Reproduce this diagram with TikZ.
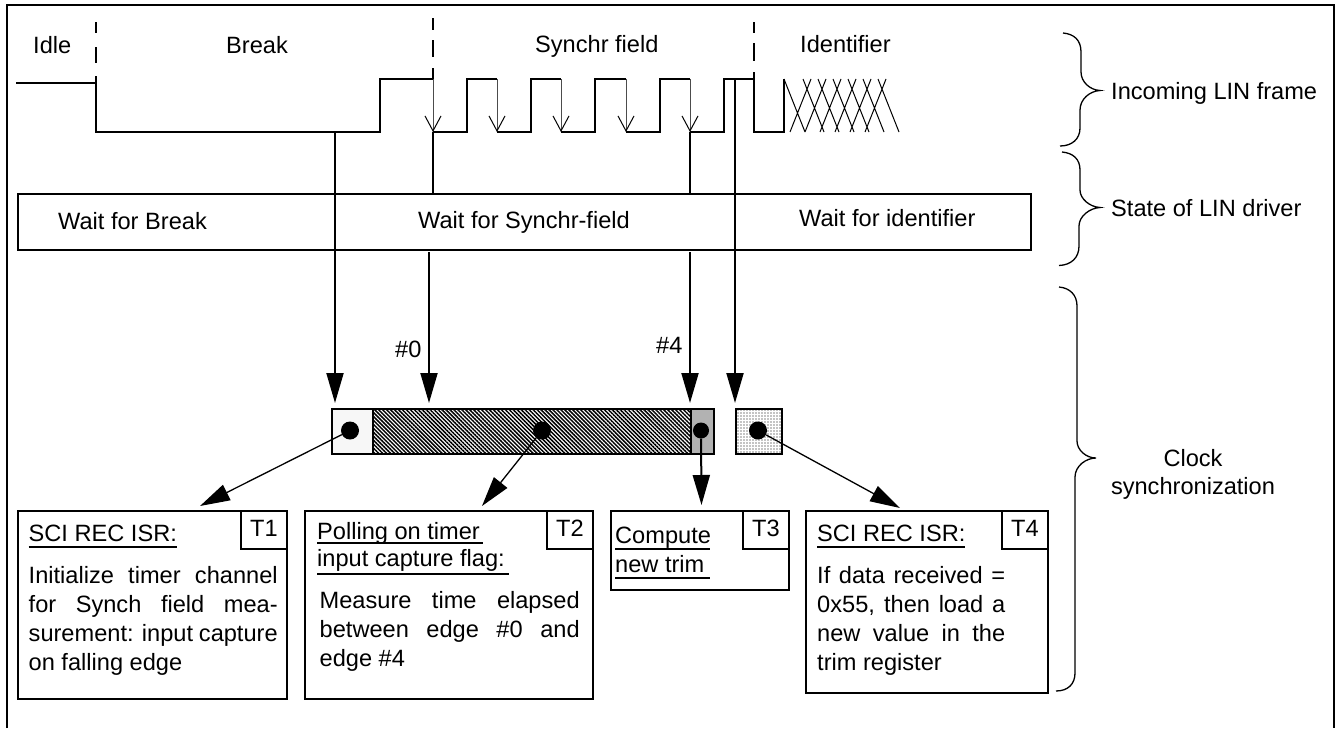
\documentclass[tikz,border=0pt]{standalone}
\usepackage{fontspec}
\setmainfont{Liberation Sans}
\usetikzlibrary{arrows.meta, patterns.meta}

\newcommand{\fillline}[2]{\makebox[#1][s]{#2}}
\newcommand{\ultext}[3]{\rlap{\rule[-#1]{#2}{2pt}}#3}

\tikzset{
	label/.style={inner sep=0pt, anchor=base west, align=left, font=\fontsize{23.6}{29}\selectfont},
	taskbox/.style={draw, line width=2pt, anchor=north west, inner sep=0pt},
	tabbox/.style={draw, line width=2pt, anchor=north east, inner sep=0pt, minimum width=46pt, minimum height=38pt, text depth=4pt, font=\fontsize{23.6}{29}\selectfont},
	block/.style={draw, line width=2pt, anchor=north west, inner sep=0pt, minimum height=45pt},
	spot/.style={circle, fill=black, inner sep=0pt, minimum size=18pt},
	signal/.style={line width=2pt},
	brace/.style={line width=1.3pt},
	fallarrow/.style={line width=1pt, draw=black!70, -{Straight Barb[length=15pt,width=16pt,line width=1pt,black]}},
	bigarrow/.style={line width=2pt, -{Triangle[length=30pt,width=17pt]}},
	slimarrow/.style={line width=1.3pt, -{Triangle[length=30pt,width=17pt]}}
}

\begin{document}
\begin{tikzpicture}[x=1pt, y=-1pt]
	\useasboundingbox (0,0) rectangle (1340,728);

	% outer frame, no bottom edge
	\draw[signal] (7,728) -- (7,5) -- (1334,5) -- (1334,728);

	% field titles
	\node[label] (idle) at (33,53) {Idle};
	\node[label] (break) at (226,53) {Break};
	\node[label] (synchr) at (535,52) {Synchr field};
	\node[label] (ident) at (800,52) {Identifier};

	% field separators
	\draw[signal] (96,22) -- (96,33) (96,47) -- (96,63) (96,76) -- (96,83);
	\draw[signal] (433,18) -- (433,30) (433,40) -- (433,57) (433,68) -- (433,79);
	\draw[signal] (754,22) -- (754,33) (754,43) -- (754,61) (754,72) -- (754,79);

	% incoming frame
	\draw[signal] (16,83) -- (96,83) -- (96,132) -- (380,132) -- (380,79) -- (433,79)
		(433,132) -- (467,132) -- (467,79) -- (497,79)
		(497,132) -- (531,132) -- (531,79) -- (561,79)
		(561,132) -- (595,132) -- (595,79) -- (626,79)
		(626,132) -- (660,132) -- (660,79) -- (690,79)
		(690,132) -- (724,132) -- (724,79) -- (754,79) -- (754,132) -- (784,132) -- (784,79);
	\draw[line width=1pt] (784,79) -- (805,132) (803,79) -- (824,132) (818,79) -- (839,132)
		(833,79) -- (854,132) (848,79) -- (869,132) (863,79) -- (884,132) (878,79) -- (899,132)
		(790,132) -- (811,79) (805,132) -- (826,79) (820,132) -- (841,79)
		(835,132) -- (856,79) (850,132) -- (871,79) (865,132) -- (886,79);

	\coordinate (low) at (0,132);
	\coordinate (edge0) at (433,79);
	\coordinate (edge1) at (497,79);
	\coordinate (edge2) at (561,79);
	\coordinate (edge3) at (626,79);
	\coordinate (edge4) at (690,79);
	\draw[fallarrow] (edge0) -- (edge0 |- low);
	\draw[fallarrow] (edge1) -- (edge1 |- low);
	\draw[fallarrow] (edge2) -- (edge2 |- low);
	\draw[fallarrow] (edge3) -- (edge3 |- low);
	\draw[fallarrow] (edge4) -- (edge4 |- low);

	% driver state
	\node[taskbox, minimum width=1013pt, minimum height=55.5pt] (state) at (17,193) {};
	\node[label] (waitbreak) at (58,229) {Wait for Break};
	\node[label] (waitsynchr) at (418,228) {Wait for Synchr-field};
	\node[label] (waitident) at (799,226) {Wait for identifier};

	% timeline blocks
	\node[block, minimum width=41pt, fill=black!3] (blockA) at (331,408) {};
	\node[block, minimum width=318pt, fill=white, pattern={Lines[angle=-45, distance=2.8pt, line width=1.5pt]}] (blockB) at (372,408) {};
	\node[block, minimum width=23pt, fill=black!30] (blockC) at (690,408) {};
	\node[block, minimum width=46pt, pattern={Dots[distance=3pt, radius=0.7pt]}] (blockD) at (735,408) {};

	\node[spot] (spotA) at (350,430.5) {};
	\node[spot] (spotB) at (542,430.5) {};
	\node[spot, minimum size=16pt] (spotC) at (701,430.5) {};
	\node[spot] (spotD) at (758,430.5) {};

	% triggers
	\coordinate (trigA) at (335,132);
	\coordinate (trigB) at (429,252);
	\coordinate (trigC) at (690,252);
	\coordinate (trigD) at (735,79);
	\coordinate (tipA) at (335,403);
	\coordinate (tipB) at (429,403);
	\coordinate (tipC) at (690,403);
	\coordinate (tipD) at (735,403);
	\draw[bigarrow] (trigA) -- (tipA);
	\draw[bigarrow] (trigB) -- (tipB);
	\draw[bigarrow] (trigC) -- (tipC);
	\draw[bigarrow] (trigD) -- (tipD);
	\draw[signal] (edge0 |- low) -- (edge0 |- state.north);
	\draw[signal] (edge4 |- low) -- (edge4 |- state.north);

	\node[label] (mark0) at (395,357) {\#0};
	\node[label] (mark4) at (656,353) {\#4};

	% tasks
	\node[taskbox, minimum width=269.5pt, minimum height=188pt] (taskA) at (16.5,510) {};
	\node[taskbox, minimum width=288pt, minimum height=188pt] (taskB) at (304,510) {};
	\node[taskbox, minimum width=178pt, minimum height=79pt] (taskC) at (610,510) {};
	\node[taskbox, minimum width=242pt, minimum height=182pt] (taskD) at (805,510) {};

	\node[tabbox] (tabA) at (taskA.north east) {T1};
	\node[tabbox] (tabB) at (taskB.north east) {T2};
	\node[tabbox] (tabC) at (taskC.north east) {T3};
	\node[tabbox] (tabD) at (taskD.north east) {T4};

	% a node with several lines sits on its last baseline
	\node[label] (headA) at (28.5,541) {\ultext{7pt}{148pt}{SCI REC ISR:}};
	\node[label] (bodyA) at (28.5,670) {\fillline{249pt}{Initialize timer channel}\\
		\fillline{249pt}{for Synch field mea-}\\
		\fillline{249pt}{surement: input capture}\\
		on falling edge};

	\node[label] (headB) at (317,566.5) {\ultext{4.5pt}{166pt}{Polling on timer}\\[-2pt]
		\ultext{8.5pt}{192pt}{input capture flag:}};
	\node[label] (bodyB) at (319.5,666) {\fillline{260pt}{Measure time elapsed}\\
		\fillline{260pt}{between edge \#0 and}\\
		edge \#4};

	\node[label] (headC) at (615,572) {\ultext{7pt}{95pt}{Compute}\\
		\ultext{7pt}{95pt}{new trim}};

	\node[label] (headD) at (817,541) {\ultext{7pt}{148pt}{SCI REC ISR:}};
	\node[label] (bodyD) at (817,670) {\fillline{188pt}{If data received =}\\
		\fillline{188pt}{0x55, then load a}\\
		\fillline{188pt}{new value in the}\\
		trim register};

	\coordinate (inA) at (200,506);
	\coordinate (inB) at (482,506);
	\coordinate (inC) at (701.5,505);
	\coordinate (inD) at (900,508);
	\draw[slimarrow] (spotA) -- (inA);
	\draw[slimarrow] (spotB) -- (inB);
	\draw[bigarrow] (spotC) -- (inC);
	\draw[slimarrow] (spotD) -- (inD);

	% braces
	\draw[brace] (1063,33) .. controls (1074,34) and (1081,40) .. (1081,52) -- (1081,72)
		.. controls (1081,82) and (1090,90) .. (1100,90.5)
		.. controls (1090,91) and (1080,99) .. (1080,110) -- (1080,128)
		.. controls (1080,139) and (1072,146) .. (1060,146);
	\draw[brace] (1062,152) .. controls (1073,153) and (1080,159) .. (1080,170) -- (1080,190)
		.. controls (1080,199) and (1090,207) .. (1100,207.5)
		.. controls (1090,208) and (1079,216) .. (1079,226) -- (1079,246)
		.. controls (1079,258) and (1071,265) .. (1059,265.5);
	\draw[brace] (1059,287) .. controls (1070,288) and (1077,295) .. (1077,306) -- (1077,441)
		.. controls (1077,450) and (1086,458) .. (1096,458)
		.. controls (1086,458) and (1075,466) .. (1075,477) -- (1075,673)
		.. controls (1075,684) and (1068,691) .. (1056,691);

	\node[label] (lframe) at (1111,99) {Incoming LIN frame};
	\node[label] (ldriver) at (1111,216) {State of LIN driver};
	\node[label, anchor=base, align=center] (lclock) at (1193,494) {Clock\\[-1pt]synchronization};
\end{tikzpicture}
\end{document}
